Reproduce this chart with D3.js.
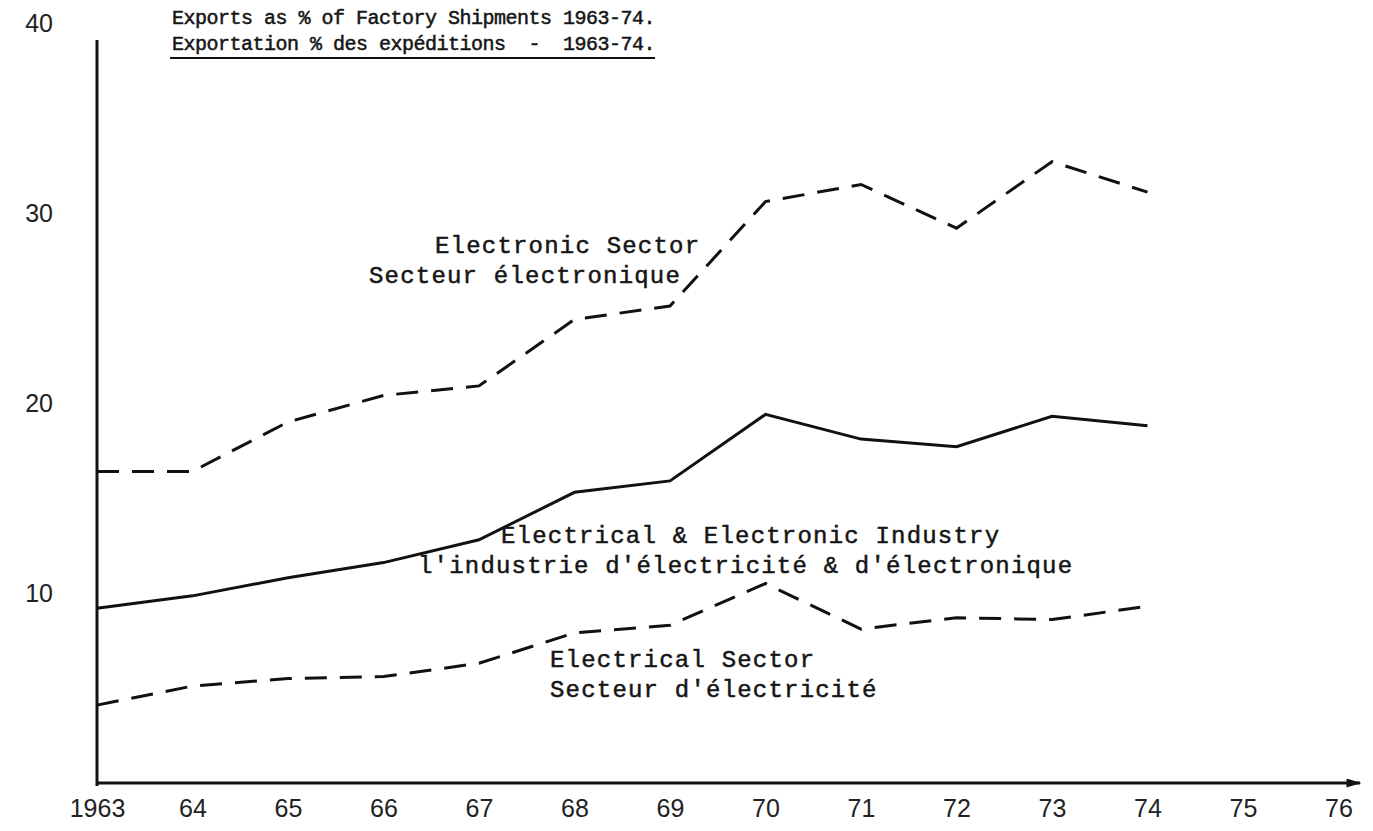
<!DOCTYPE html>
<html>
<head>
<meta charset="utf-8">
<script src="https://cdn.jsdelivr.net/npm/d3@7"></script>
<style>
  body { margin: 0; background: #fff; }
  svg { display: block; }
  .type { font-family: "Liberation Mono", "DejaVu Sans Mono", monospace; font-size: 24px; letter-spacing: 1.2px; fill: #151515; stroke: #151515; stroke-width: 0.5px; }
  .title { font-size: 20px; letter-spacing: -0.5px; }
  .hand { font-family: "Liberation Sans Narrow", "Liberation Sans", sans-serif; font-size: 25px; fill: #222; }
</style>
</head>
<body>
<div id="chart"></div>
<script>
// values (% of factory shipments exported)
const years = [1963, 1964, 1965, 1966, 1967, 1968, 1969, 1970, 1971, 1972, 1973, 1974];
const electronic = [16.4, 16.4, 19.0, 20.4, 20.9, 24.4, 25.1, 30.6, 31.5, 29.2, 32.7, 31.1];
const industry = [9.2, 9.85, 10.8, 11.6, 12.8, 15.3, 15.9, 19.4, 18.1, 17.7, 19.3, 18.8];
const electrical = [4.1, 5.1, 5.5, 5.6, 6.3, 7.9, 8.3, 10.5, 8.1, 8.7, 8.6, 9.3];

const xTicks = [1963, 1964, 1965, 1966, 1967, 1968, 1969, 1970, 1971, 1972, 1973, 1974, 1975, 1976];
const xTickLabels = ["1963", "64", "65", "66", "67", "68", "69", "70", "71", "72", "73", "74", "75", "76"];
const yTicks = [10, 20, 30, 40];

const titleLines = ["Exports as % of Factory Shipments 1963-74.", "Exportation % des expéditions  -  1963-74."];
const electronicLabel = ["Electronic Sector", "Secteur électronique"];
const industryLabel = ["Electrical & Electronic Industry", "l'industrie d'électricité & d'électronique"];
const electricalLabel = ["Electrical Sector", "Secteur d'électricité"];

const width = 1373, height = 831;
const origin = {x: 97, y: 783};

const svg = d3.select("#chart")
  .append("svg")
    .attr("width", width)
    .attr("height", height);

const x = d3.scaleLinear()
  .domain([1963, 1976])
  .range([origin.x, origin.x + 13 * 95.5]);

const y = d3.scaleLinear()
  .domain([0, 40])
  .range([origin.y, origin.y - 40 * 19]);

// arrow head for the x axis
svg.append("defs").append("marker")
    .attr("id", "arrow")
    .attr("viewBox", "0 0 10 6")
    .attr("refX", 9).attr("refY", 3)
    .attr("markerWidth", 6).attr("markerHeight", 3)
    .attr("orient", "auto")
  .append("path")
    .attr("d", "M0,0L10,3L0,6Z")
    .attr("fill", "#111");

// axes
svg.append("line")
  .attr("x1", origin.x).attr("x2", origin.x)
  .attr("y1", 40).attr("y2", origin.y + 3)
  .attr("stroke", "#111").attr("stroke-width", 3);

svg.append("line")
  .attr("x1", origin.x).attr("x2", 1360)
  .attr("y1", origin.y).attr("y2", origin.y)
  .attr("stroke", "#111").attr("stroke-width", 3)
  .attr("marker-end", "url(#arrow)");

const xAxis = svg.append("g")
  .attr("transform", `translate(0, ${origin.y})`)
  .call(d3.axisBottom(x).tickValues(xTicks).tickSize(0).tickPadding(16)
    .tickFormat((d, i) => xTickLabels[i]));
xAxis.select(".domain").remove();
xAxis.selectAll("text").attr("class", "hand").attr("fill", null);

const yAxis = svg.append("g")
  .attr("transform", `translate(${origin.x}, 0)`)
  .call(d3.axisLeft(y).tickValues(yTicks).tickSize(0).tickPadding(44));
yAxis.select(".domain").remove();
yAxis.selectAll("text").attr("class", "hand").attr("fill", null);

// series
const line = d3.line()
  .x((d, i) => x(years[i]))
  .y(d => y(d));

svg.append("path")
  .datum(electronic)
  .attr("d", line)
  .attr("fill", "none").attr("stroke", "#111").attr("stroke-width", 3)
  .attr("stroke-dasharray", "22,13");

svg.append("path")
  .datum(industry)
  .attr("d", line)
  .attr("fill", "none").attr("stroke", "#111").attr("stroke-width", 3);

svg.append("path")
  .datum(electrical)
  .attr("d", line)
  .attr("fill", "none").attr("stroke", "#111").attr("stroke-width", 3)
  .attr("stroke-dasharray", "22,13");

// title
const title = svg.append("g");
title.selectAll("text")
  .data(titleLines)
  .enter().append("text")
    .attr("class", "type title")
    .attr("x", 172)
    .attr("y", (d, i) => 24 + i * 26)
    .attr("xml:space", "preserve")
    .text(d => d);
const lineTwoLen = title.selectAll("text").nodes()[1].getComputedTextLength();
title.append("line")
  .attr("x1", 170).attr("x2", 172 + lineTwoLen)
  .attr("y1", 58).attr("y2", 58)
  .attr("stroke", "#111").attr("stroke-width", 2);

// series labels
function label(lines, xs, y0) {
  svg.append("g").selectAll("text")
    .data(lines)
    .enter().append("text")
      .attr("class", "type")
      .attr("x", (d, i) => xs[i])
      .attr("y", (d, i) => y0 + i * 30)
      .text(d => d);
}
label(electronicLabel, [435, 369], 253);
label(industryLabel, [501, 418], 543);
label(electricalLabel, [550, 550], 667);
</script>
</body>
</html>
